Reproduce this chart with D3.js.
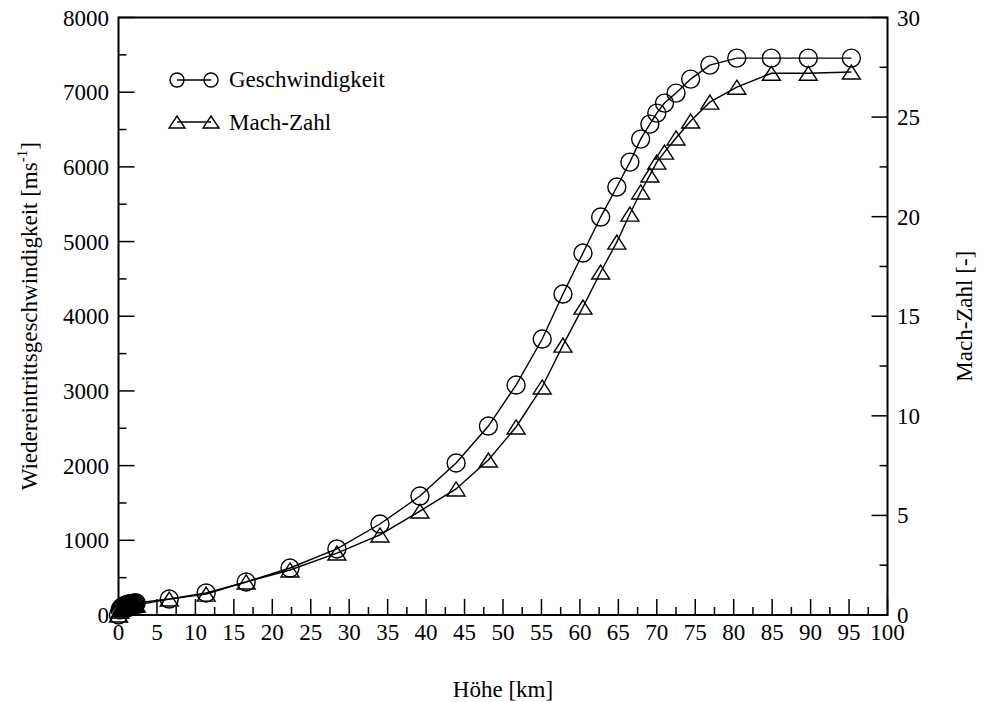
<!DOCTYPE html>
<html>
<head>
<meta charset="utf-8">
<script src="https://cdn.jsdelivr.net/npm/d3@7"></script>
<style>
  html, body { margin: 0; padding: 0; background: #fff; }
  svg { display: block; }
  text { font-family: "Liberation Serif", "Times New Roman", serif; fill: #000; }
</style>
</head>
<body>
<svg id="chart" width="981" height="702"></svg>
<script>
// ---- data ----
const altitude = [0, 0.2, 0.35, 0.5, 0.65, 0.8, 0.95, 1.1, 1.25, 1.4, 1.55, 1.7, 1.85, 2.0, 2.15, 2.3,
  6.6, 11.4, 16.6, 22.3, 28.4, 34.0, 39.2, 43.9, 48.1, 51.7, 55.1, 57.8, 60.4, 62.7, 64.8,
  66.5, 67.9, 69.1, 70.0, 71.0, 72.5, 74.4, 76.9, 80.4, 84.9, 89.7, 95.3];
const velocity = [0, 70, 95, 110, 120, 128, 134, 139, 143, 147, 150, 153, 156, 158, 160, 162,
  214, 295, 442, 629, 884, 1218, 1593, 2035, 2530, 3079, 3695, 4297, 4846, 5328, 5730,
  6064, 6372, 6573, 6720, 6854, 6988, 7175, 7363, 7456, 7456, 7456, 7456];
const machNumber = [0, 0.2, 0.28, 0.33, 0.36, 0.39, 0.41, 0.43, 0.44, 0.45, 0.46, 0.47, 0.48, 0.49, 0.5, 0.5,
  0.8, 1.05, 1.66, 2.26, 3.11, 4.02, 5.22, 6.33, 7.78, 9.44, 11.45, 13.55, 15.46, 17.22, 18.72,
  20.13, 21.24, 22.09, 22.74, 23.24, 23.95, 24.8, 25.75, 26.5, 27.2, 27.2, 27.26];

const xTickLabels = [0, 5, 10, 15, 20, 25, 30, 35, 40, 45, 50, 55, 60, 65, 70, 75, 80, 85, 90, 95, 100];
const xMinorTicks = [2.5, 7.5, 12.5, 17.5, 22.5, 27.5, 32.5, 37.5, 42.5, 47.5, 52.5, 57.5, 62.5, 67.5, 72.5, 77.5, 82.5, 87.5, 92.5, 97.5];
const yLeftTickLabels = [0, 1000, 2000, 3000, 4000, 5000, 6000, 7000, 8000];
const yLeftMinorTicks = [500, 1500, 2500, 3500, 4500, 5500, 6500, 7500];
const yRightTickLabels = [0, 5, 10, 15, 20, 25, 30];
const yRightMinorTicks = [2.5, 7.5, 12.5, 17.5, 22.5, 27.5];

const seriesNames = ["Geschwindigkeit", "Mach-Zahl"];
const xTitle = "Höhe [km]";
const yLeftTitle = "Wiedereintrittsgeschwindigkeit [ms";
const yRightTitle = "Mach-Zahl [-]";

// ---- layout ----
const svg = d3.select("#chart");
const L = 118.5, R = 887.5, T = 17.5, B = 615;
const x = d3.scaleLinear().domain([0, 100]).range([L, R]);
const yL = d3.scaleLinear().domain([0, 8000]).range([B, T]);
const yR = d3.scaleLinear().domain([0, 30]).range([B, T]);
const FS = 23;

// frame
svg.append("rect").attr("x", L).attr("y", T).attr("width", R - L).attr("height", B - T)
  .attr("fill", "none").attr("stroke", "#000").attr("stroke-width", 2);

// axes helpers: inward ticks
function bottomAxis() {
  const g = svg.append("g");
  g.selectAll("line.maj").data(xTickLabels).join("line")
    .attr("x1", d => x(d)).attr("x2", d => x(d)).attr("y1", B).attr("y2", B - 16)
    .attr("stroke", "#000").attr("stroke-width", 1.5);
  g.selectAll("line.min").data(xMinorTicks).join("line")
    .attr("x1", d => x(d)).attr("x2", d => x(d)).attr("y1", B).attr("y2", B - 8)
    .attr("stroke", "#000").attr("stroke-width", 1.5);
  g.selectAll("text").data(xTickLabels).join("text")
    .attr("x", d => x(d)).attr("y", 640).attr("text-anchor", "middle")
    .attr("font-size", FS).text(d => d);
}
function leftAxis() {
  const g = svg.append("g");
  g.selectAll("line.maj").data(yLeftTickLabels).join("line")
    .attr("x1", L).attr("x2", L + 16).attr("y1", d => yL(d)).attr("y2", d => yL(d))
    .attr("stroke", "#000").attr("stroke-width", 1.5);
  g.selectAll("line.min").data(yLeftMinorTicks).join("line")
    .attr("x1", L).attr("x2", L + 8).attr("y1", d => yL(d)).attr("y2", d => yL(d))
    .attr("stroke", "#000").attr("stroke-width", 1.5);
  g.selectAll("text").data(yLeftTickLabels).join("text")
    .attr("x", 109).attr("y", d => yL(d) + 8).attr("text-anchor", "end")
    .attr("font-size", FS).text(d => d);
}
function rightAxis() {
  const g = svg.append("g");
  g.selectAll("line.maj").data(yRightTickLabels).join("line")
    .attr("x1", R).attr("x2", R - 16).attr("y1", d => yR(d)).attr("y2", d => yR(d))
    .attr("stroke", "#000").attr("stroke-width", 1.5);
  g.selectAll("line.min").data(yRightMinorTicks).join("line")
    .attr("x1", R).attr("x2", R - 8).attr("y1", d => yR(d)).attr("y2", d => yR(d))
    .attr("stroke", "#000").attr("stroke-width", 1.5);
  g.selectAll("text").data(yRightTickLabels).join("text")
    .attr("x", 897).attr("y", d => yR(d) + 8).attr("text-anchor", "start")
    .attr("font-size", FS).text(d => d);
}
bottomAxis(); leftAxis(); rightAxis();

// titles
svg.append("text").attr("x", (L + R) / 2).attr("y", 697).attr("text-anchor", "middle")
  .attr("font-size", FS).text(xTitle);
const lt = svg.append("text").attr("transform", `translate(37,${(T + B) / 2}) rotate(-90)`)
  .attr("text-anchor", "middle").attr("font-size", FS);
lt.append("tspan").text(yLeftTitle);
lt.append("tspan").attr("dy", -10).attr("font-size", 15).text("-1");
lt.append("tspan").attr("dy", 10).text("]");
svg.append("text").attr("transform", `translate(972,${(T + B) / 2}) rotate(-90)`)
  .attr("text-anchor", "middle").attr("font-size", FS).text(yRightTitle);

// series
const idx = d3.range(altitude.length);
const lineV = d3.line().x(i => x(altitude[i])).y(i => yL(velocity[i]));
const lineM = d3.line().x(i => x(altitude[i])).y(i => yR(machNumber[i]));
svg.append("path").attr("d", lineV(idx)).attr("fill", "none").attr("stroke", "#000").attr("stroke-width", 1.4);
svg.append("path").attr("d", lineM(idx)).attr("fill", "none").attr("stroke", "#000").attr("stroke-width", 1.4);

function tri(cx, cy, hw, h) {
  return `M${cx},${cy - h / 2}L${cx + hw},${cy + h / 2}L${cx - hw},${cy + h / 2}Z`;
}
svg.append("g").selectAll("circle").data(idx).join("circle")
  .attr("cx", i => x(altitude[i])).attr("cy", i => yL(velocity[i])).attr("r", 9)
  .attr("fill", "none").attr("stroke", "#000").attr("stroke-width", 1.4);
svg.append("g").selectAll("path").data(idx).join("path")
  .attr("d", i => tri(x(altitude[i]), yR(machNumber[i]), 9, 14))
  .attr("fill", "none").attr("stroke", "#000").attr("stroke-width", 1.4);

// legend
const lg = svg.append("g");
lg.append("line").attr("x1", 177).attr("x2", 211).attr("y1", 80).attr("y2", 80).attr("stroke", "#000").attr("stroke-width", 1.4);
[177, 211].forEach(cx => lg.append("circle").attr("cx", cx).attr("cy", 80).attr("r", 7)
  .attr("fill", "none").attr("stroke", "#000").attr("stroke-width", 1.4));
lg.append("text").attr("x", 229).attr("y", 87).attr("font-size", FS).text(seriesNames[0]);
lg.append("line").attr("x1", 177).attr("x2", 211).attr("y1", 122).attr("y2", 122).attr("stroke", "#000").attr("stroke-width", 1.4);
[177, 211].forEach(cx => lg.append("path").attr("d", tri(cx, 122, 8, 12))
  .attr("fill", "none").attr("stroke", "#000").attr("stroke-width", 1.4));
lg.append("text").attr("x", 229).attr("y", 130).attr("font-size", FS).text(seriesNames[1]);
</script>
</body>
</html>
